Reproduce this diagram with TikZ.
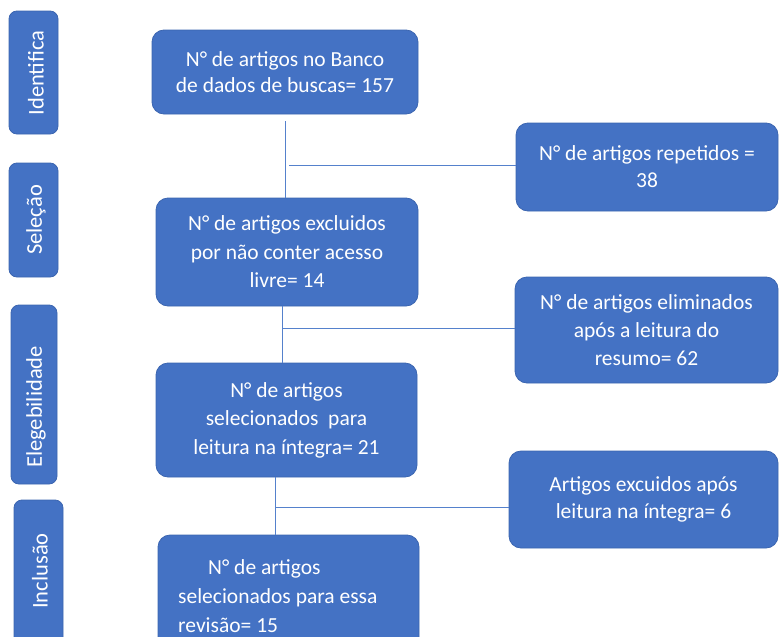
\documentclass[tikz,border=0pt]{standalone}
\usepackage{fontspec}
\setmainfont{Carlito}
\definecolor{blu}{HTML}{4472C4}
\definecolor{bord}{HTML}{3B65B0}
\definecolor{lnc}{HTML}{5581CC}
\begin{document}
\begin{tikzpicture}[x=1pt,y=-1pt,
  box/.style={draw=bord, fill=blu, rounded corners=12pt, text=white, align=center, inner sep=0pt, line width=0.8pt, font=\fontsize{21.5}{28.5}\selectfont},
  side/.style={draw=bord, fill=blu, rounded corners=8pt, inner sep=0pt, line width=0.8pt},
  sidetxt/.style={text=white, rotate=90, inner sep=0pt, font=\fontsize{22.5}{26}\selectfont},
  conn/.style={draw=lnc, line width=1pt}]
\useasboundingbox (0,0) rectangle (779,637);
\clip (0,0) rectangle (779,637);
% side bars
\node[side, minimum width=49pt, minimum height=123pt] (s1) at (33.5,72.5) {};
\node[side, minimum width=49pt, minimum height=114pt] (s2) at (33.5,220) {};
\node[side, minimum width=46pt, minimum height=179pt] (s3) at (34,394.5) {};
\node[side, minimum width=49pt, minimum height=160pt] (s4) at (38.5,580) {};
\node[sidetxt] (t1) at (36,73) {Identifica};
\node[sidetxt] (t2) at (36,220) {Seleção};
\node[sidetxt] (t3) at (36,407) {Elegebilidade};
\node[sidetxt] (t4) at (40,571) {Inclusão};
% main boxes
\node[box, minimum width=266pt, minimum height=84pt, font=\fontsize{21.5}{26}\selectfont] (b1) at (285,72) {N° de artigos no Banco\\de dados de buscas= 157};
\node[box, minimum width=262pt, minimum height=108pt] (b2) at (287,252) {N° de artigos excluidos\\por não conter acesso\\livre= 14};
\node[box, minimum width=261pt, minimum height=114pt] (b3) at (286.5,420) {N° de artigos\\selecionados\ \ para\\leitura na íntegra= 21};
\node[box, minimum width=261pt, minimum height=130pt] (b4) at (288.5,600) {};
\node[text=white, align=left, inner sep=0pt, anchor=north west, font=\fontsize{21.5}{29}\selectfont] (b4t) at (178,559) {\hspace*{30pt}N° de artigos\\selecionados para essa\\revisão= 15};
% right boxes
\node[box, minimum width=262pt, minimum height=88pt, font=\fontsize{21.5}{27}\selectfont] (r1) at (647,167) {N° de artigos repetidos =\\38};
\node[box, minimum width=263pt, minimum height=106pt, font=\fontsize{21.5}{28}\selectfont] (r2) at (646.5,330) {N° de artigos eliminados\\após a leitura do\\resumo= 62};
\node[box, minimum width=269pt, minimum height=97pt, font=\fontsize{21.5}{27}\selectfont] (r3) at (643.5,499.5) {Artigos excuidos após\\leitura na íntegra= 6};
% connectors
\coordinate (v1) at (285,121);
\draw[conn] (v1) -- (v1 |- b2.north);
\coordinate (h1) at (289,165);
\draw[conn] (h1) -- (h1 -| r1.west);
\coordinate (v2) at (282,0);
\draw[conn] (v2 |- b2.south) -- (v2 |- b3.north);
\coordinate (h2) at (282,328);
\draw[conn] (h2) -- (h2 -| r2.west);
\coordinate (v3) at (275,0);
\draw[conn] (v3 |- b3.south) -- (v3 |- b4.north);
\coordinate (h3) at (275,507);
\draw[conn] (h3) -- (h3 -| r3.west);
\end{tikzpicture}
\end{document}
